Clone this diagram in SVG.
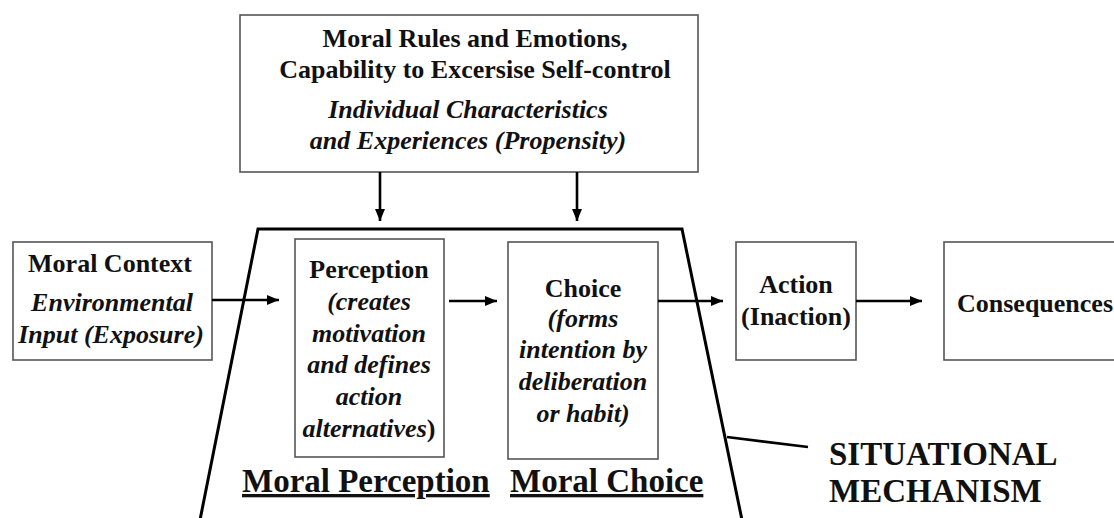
<svg xmlns="http://www.w3.org/2000/svg" width="1114" height="518" viewBox="0 0 1114 518">
<defs>
<style>
.box{fill:#fff;stroke:#555;stroke-width:1.6}
.t{font-family:'Liberation Serif','DejaVu Serif',serif;font-weight:bold;font-size:26px;fill:#111}
.i{font-style:italic}
.m{text-anchor:middle}
.big{font-size:33px}
.u{text-decoration:underline}
.conn{stroke:#000;stroke-width:2.6;fill:none}
.trap{stroke:#000;stroke-width:3;fill:none}
</style>
<marker id="ah" viewBox="0 0 12 10" refX="12" refY="5" markerWidth="12" markerHeight="10" markerUnits="userSpaceOnUse" orient="auto">
<path d="M0,0 L12,5 L0,10 Z" fill="#000"/>
</marker>
</defs>
<rect width="1114" height="518" fill="#fff"/>
<g font-family="Liberation Serif, serif">
<g id="mechanism">
<polyline class="trap" points="200,520 258,229 682,229 742,520"/>
<line class="conn" x1="727" y1="437" x2="808" y2="447" stroke-width="2.4"/>
<text class="t big" x="829" y="465">SITUATIONAL</text>
<text class="t big" x="829" y="502">MECHANISM</text>
<text class="t big u" x="242" y="492">Moral Perception</text>
<text class="t big u" x="510" y="492">Moral Choice</text>
</g>
<g id="propensity">
<rect class="box" x="240" y="15" width="458" height="157"/>
<text class="t m" x="475" y="47">Moral Rules and Emotions,</text>
<text class="t m" x="475" y="78">Capability to Excersise Self-control</text>
<text class="t i m" x="468" y="118">Individual Characteristics</text>
<text class="t i m" x="468" y="149">and Experiences (Propensity)</text>
</g>
<g id="context">
<rect class="box" x="13" y="242" width="199" height="118"/>
<text class="t m" x="110" y="272">Moral Context</text>
<text class="t i m" x="112" y="311">Environmental</text>
<text class="t i m" x="111" y="343">Input (Exposure)</text>
</g>
<g id="perception">
<rect class="box" x="295" y="239" width="149" height="218"/>
<text class="t m" x="369" y="278">Perception</text>
<text class="t i m" x="369" y="310">(creates</text>
<text class="t i m" x="369" y="342">motivation</text>
<text class="t i m" x="369" y="373">and defines</text>
<text class="t i m" x="369" y="405">action</text>
<text class="t m" x="369" y="437"><tspan class="i">alternatives</tspan>)</text>
</g>
<g id="choice">
<rect class="box" x="508" y="242" width="150" height="217"/>
<text class="t m" x="583" y="297">Choice</text>
<text class="t i m" x="583" y="327">(forms</text>
<text class="t i m" x="583" y="358">intention by</text>
<text class="t i m" x="583" y="390">deliberation</text>
<text class="t i m" x="583" y="422">or habit)</text>
</g>
<g id="action">
<rect class="box" x="736" y="242" width="120" height="118"/>
<text class="t m" x="796" y="293">Action</text>
<text class="t m" x="796" y="325">(Inaction)</text>
</g>
<g id="consequences">
<rect class="box" x="944" y="242" width="180" height="118"/>
<text class="t" x="957" y="312">Consequences</text>
</g>
</g>
<g id="connectors">
<line class="conn" x1="380" y1="172" x2="380" y2="221" marker-end="url(#ah)"/>
<line class="conn" x1="577" y1="172" x2="577" y2="221" marker-end="url(#ah)"/>
<line class="conn" x1="212" y1="300" x2="279" y2="300" marker-end="url(#ah)"/>
<line class="conn" x1="449" y1="301" x2="497" y2="301" marker-end="url(#ah)"/>
<line class="conn" x1="658" y1="301" x2="723" y2="301" marker-end="url(#ah)"/>
<line class="conn" x1="856" y1="301" x2="922" y2="301" marker-end="url(#ah)"/>
</g>
</svg>
